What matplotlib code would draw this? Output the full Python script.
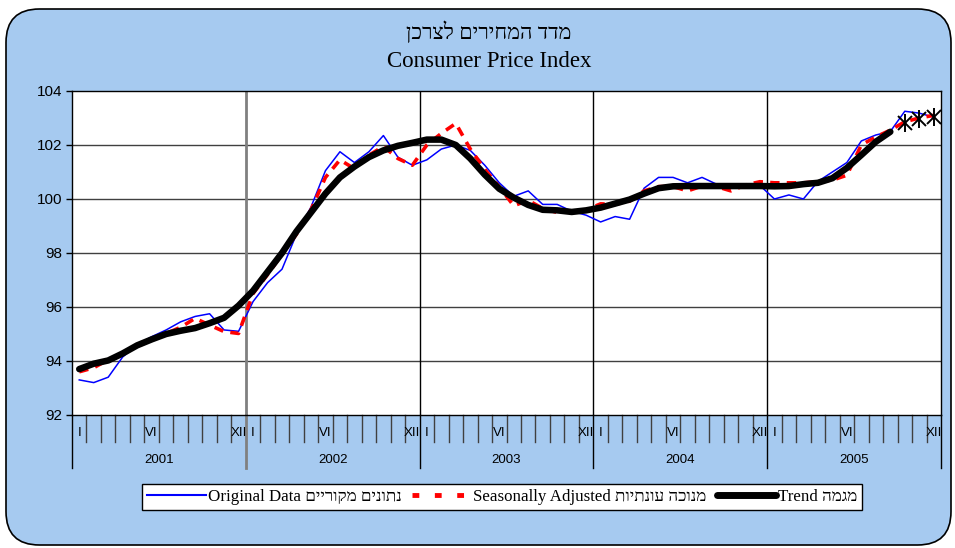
import numpy as np
import matplotlib
matplotlib.use("Agg")
import matplotlib.pyplot as plt
from matplotlib.patches import FancyBboxPatch
from matplotlib.lines import Line2D
import matplotlib.transforms as mtransforms

# ---------------- data ----------------
years = ["2001", "2002", "2003", "2004", "2005"]
month_labels = {0: "I", 5: "VI", 11: "XII"}

original = [
    93.3, 93.2, 93.4, 94.15, 94.6, 94.9, 95.15, 95.45, 95.65, 95.75, 95.15, 95.1,
    96.2, 96.9, 97.4, 98.7, 99.7, 101.05, 101.75, 101.35, 101.75, 102.35, 101.55, 101.25,
    101.45, 101.85, 102.0, 101.8, 101.25, 100.6, 100.1, 100.3, 99.8, 99.8, 99.55, 99.4,
    99.15, 99.35, 99.25, 100.4, 100.8, 100.8, 100.6, 100.8, 100.55, 100.55, 100.55, 100.5,
    100.0, 100.15, 100.0, 100.65, 101.0, 101.35, 102.15, 102.37, 102.5, 103.25, 103.18, 103.03,
]
seasonally_adjusted = [
    93.6, 93.75, 94.05, 94.3, 94.53, 94.8, 95.02, 95.25, 95.58, 95.33, 95.09, 95.02,
    96.5, 97.2, 97.95, 98.7, 99.6, 100.8, 101.45, 101.12, 101.62, 101.95, 101.5, 101.25,
    102.0, 102.43, 102.8, 101.85, 101.1, 100.45, 99.75, 99.95, 99.65, 99.5, 99.55, 99.6,
    99.82, 99.8, 99.92, 100.3, 100.46, 100.46, 100.3, 100.48, 100.46, 100.3, 100.52, 100.64,
    100.6, 100.6, 100.6, 100.64, 100.7, 100.88, 102.0, 102.3, 102.55, 102.86, 103.0, 103.1,
]
trend = [
    93.7, 93.9, 94.02, 94.28, 94.58, 94.8, 95.0, 95.12, 95.22, 95.4, 95.6, 96.05,
    96.6, 97.3, 98.0, 98.8, 99.5, 100.2, 100.8, 101.2, 101.55, 101.8, 101.97, 102.08,
    102.2, 102.2, 102.0, 101.5, 100.9, 100.38, 100.05, 99.78, 99.6, 99.58, 99.52, 99.58,
    99.68, 99.83, 99.98, 100.2, 100.4, 100.47, 100.48, 100.48, 100.48, 100.48, 100.48, 100.48,
    100.47, 100.48, 100.55, 100.6, 100.77, 101.15, 101.63, 102.12, 102.49, np.nan, np.nan, np.nan,
]
trend_forecast = [np.nan] * 57 + [102.8, 102.95, 103.05]

title_he = "מדד המחירים לצרכן"
title_en = "Consumer Price Index"
label_orig_en, label_orig_he = "Original Data", "נתונים מקוריים"
label_sa_en, label_sa_he = "Seasonally Adjusted", "מנוכה עונתיות"
label_tr_en, label_tr_he = "Trend", "מגמה"


def vis(s):
    # visual (left-to-right) order for right-to-left Hebrew text
    return s[::-1]


# ---------------- figure ----------------
W, H = 955, 548
fig = plt.figure(figsize=(W / 100, H / 100), dpi=100)
fig.patch.set_facecolor("white")
bg = "#A6CAF0"
frame = FancyBboxPatch((6 / W, 3 / H), (951 - 6) / W, (539 - 3) / H,
                       boxstyle="round,pad=0,rounding_size=0.035",
                       transform=fig.transFigure, facecolor=bg,
                       edgecolor="black", linewidth=1.2, mutation_aspect=W / H,
                       zorder=-10)
fig.patches.append(frame)

serif = ["Liberation Serif", "DejaVu Serif"]
sans = ["Liberation Sans", "DejaVu Sans"]

fig.text(489 / W, 1 - 33 / H, vis(title_he), ha="center", va="center",
         fontsize=15.5, family=serif)
fig.text(489 / W, 1 - 61 / H, title_en, ha="center", va="center",
         fontsize=16.5, family=serif)

x0, x1, y0, y1 = 72, 941, 91, 415
ax = fig.add_axes([x0 / W, 1 - y1 / H, (x1 - x0) / W, (y1 - y0) / H])
ax.set_facecolor("white")

n = len(original)
x = np.arange(n) + 0.5
ax.set_xlim(0, n)
ax.set_ylim(92, 104)
ax.set_yticks(np.arange(92, 105, 2))
ax.set_yticklabels([str(v) for v in range(92, 105, 2)], family=sans, fontsize=11)
ax.tick_params(axis="y", direction="out", length=4, width=1, color="black", pad=3)
ax.set_xticks([])
for s in ax.spines.values():
    s.set_color("black")
    s.set_linewidth(1)

for v in range(94, 104, 2):
    ax.axhline(v, color="#404040", lw=1, zorder=1)
for k, xb in enumerate([12, 24, 36, 48]):
    if k == 0:
        ax.axvline(xb, color="#808080", lw=2, zorder=1)
    else:
        ax.axvline(xb, color="black", lw=1, zorder=1)

ax.plot(x, original, color="#0000FF", lw=1.1, zorder=3)
ax.plot(x, seasonally_adjusted, color="#FF0000", lw=2.6, ls=(0, (2.6, 2.0)),
        zorder=4)
ax.plot(x, trend, color="black", lw=4.7, solid_capstyle="round",
        solid_joinstyle="round", zorder=5)
ax.plot(x, trend_forecast, ls="none", marker="x", ms=9.5, mew=1.4,
        color="black", zorder=6, clip_on=False)
ax.plot(x, trend_forecast, ls="none", marker="|", ms=12.5, mew=1.4,
        color="black", zorder=6, clip_on=False)

# month / year axis below the plot
trans = mtransforms.blended_transform_factory(ax.transData, ax.transAxes)
ph = y1 - y0
for m in range(n + 1):
    if m % 12 == 0:
        col = "#808080" if m == 12 else "black"
        lw = 2 if m == 12 else 1
        ax.plot([m, m], [0, -53 / ph], transform=trans, color=col, lw=lw,
                clip_on=False)
    else:
        ax.plot([m, m], [0, -27 / ph], transform=trans, color="#404040", lw=1,
                clip_on=False)
for m in range(n):
    lab = month_labels.get(m % 12)
    if lab:
        ax.text(m + 0.5, -18 / ph, lab, transform=trans, ha="center",
                va="center", fontsize=9.5, family=sans)
for k, yr in enumerate(years):
    ax.text(12 * k + 6, -45 / ph, yr, transform=trans, ha="center",
            va="center", fontsize=9.5, family=sans)

# legend
handles = [
    Line2D([], [], color="#0000FF", lw=1.5),
    Line2D([], [], color="#FF0000", lw=3.5, ls=(0, (1.4, 3.2))),
    Line2D([], [], color="black", lw=5, solid_capstyle="round"),
]
labels = [
    label_orig_en + " " + vis(label_orig_he),
    label_sa_en + " " + vis(label_sa_he),
    label_tr_en + " " + vis(label_tr_he),
]
leg = fig.legend(handles, labels, loc="center", ncol=3,
                 bbox_to_anchor=(502 / W, 1 - 497 / H),
                 prop={"family": serif, "size": 12.2},
                 frameon=True, fancybox=False, edgecolor="black",
                 framealpha=1,
                 handlelength=3.5, handletextpad=0.12, columnspacing=0.6,
                 borderpad=0.3, borderaxespad=0)
leg.get_frame().set_linewidth(1)
leg.get_frame().set_facecolor("white")

fig.savefig("out.png", dpi=100)
